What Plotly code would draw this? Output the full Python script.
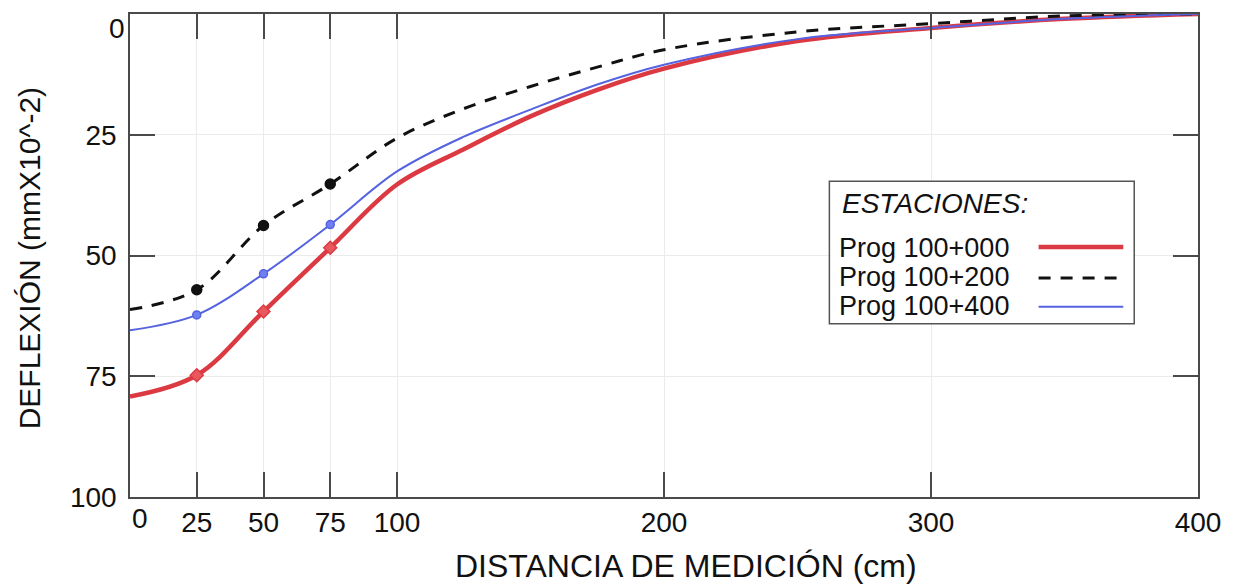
import plotly.graph_objects as go

# Data
distancia = [0, 25, 50, 75, 100, 125, 150, 175, 200, 250, 300, 350, 400]
prog_100_000 = [79.2, 74.8, 61.6, 48.4, 35.3, 28.0, 21.2, 15.7, 11.3, 5.6, 2.9, 1.0, 0.0]
prog_100_200 = [61.2, 57.1, 43.8, 35.2, 25.7, 19.6, 15.0, 11.0, 7.4, 3.7, 2.0, 0.4, 0.0]
prog_100_400 = [65.5, 62.3, 53.8, 43.6, 32.6, 25.4, 19.8, 14.6, 10.5, 5.2, 2.9, 1.0, 0.0]
marker_x = [25, 50, 75]

x_ticks = [0, 25, 50, 75, 100, 200, 300, 400]
y_ticks = [0, 25, 50, 75, 100]

series = [
    ("Prog 100+000", prog_100_000, "#dc3a42", 4.5, "solid", "diamond", 10, "#e8585e"),
    ("Prog 100+200", prog_100_200, "#111111", 3, "12px,10px", "circle", 10, "#111111"),
    ("Prog 100+400", prog_100_400, "#5563e0", 2, "solid", "circle", 8, "#6f80f0"),
]

W, H = 1233, 585
L, R, T, B = 130, 31, 12, 88
PW, PH = W - L - R, H - T - B


def px(xp):
    return (xp - L) / PW


def py(yp):
    return (H - B - yp) / PH


fig = go.Figure()
for name, ys, color, width, dash, sym, msize, mfill in series:
    fig.add_trace(go.Scatter(
        x=distancia, y=ys, mode="lines", name=name,
        line=dict(color=color, width=width, dash=dash, shape="spline", smoothing=1.0),
        showlegend=False, hoverinfo="skip"))
    mx = [x for x in distancia if x in marker_x]
    my = [y for x, y in zip(distancia, ys) if x in marker_x]
    fig.add_trace(go.Scatter(
        x=mx, y=my, mode="markers", name=name,
        marker=dict(symbol=sym, size=msize, color=mfill, line=dict(color=color, width=1.5)),
        showlegend=False, hoverinfo="skip"))

font_family = "Liberation Sans, Arial, sans-serif"
tick_font = dict(family=font_family, size=28, color="#111111")
axis_common = dict(
    showline=True, linecolor="#4a4a4a", linewidth=1.5, mirror="ticks",
    ticks="inside", ticklen=25, tickwidth=1.5, tickcolor="#4a4a4a",
    showgrid=True, gridcolor="#ebebeb", gridwidth=1, zeroline=False,
    tickfont=tick_font,
)

# the "0" labels sit slightly inside the corner in the reference; they are drawn as annotations
fig.update_xaxes(range=[0, 400], tickmode="array", tickvals=x_ticks,
                 ticktext=["" if v == 0 else str(v) for v in x_ticks], **axis_common)
fig.update_yaxes(range=[100, 0], tickmode="array", tickvals=y_ticks,
                 ticktext=["" if v == 0 else str(v) for v in y_ticks], ticklabelstandoff=6,
                 **axis_common)

# Custom legend box (symbols to the right of labels, as in the reference)
shapes = [dict(type="rect", xref="paper", yref="paper",
               x0=px(832), x1=px(1138), y0=py(180), y1=py(323),
               line=dict(color="#555555", width=1.5), fillcolor="white", layer="above")]
annotations = [
    dict(text="<i>ESTACIONES:</i>", xref="paper", yref="paper", x=px(843), y=py(202),
         xanchor="left", yanchor="middle", showarrow=False,
         font=dict(family=font_family, size=28, color="#111111")),
]
entry_y = [247, 276, 305]
line_y = [246, 277, 306]
for (name, ys, color, width, dash, sym, msize, mfill), ey, ly in zip(series, entry_y, line_y):
    annotations.append(dict(text=name, xref="paper", yref="paper", x=px(841), y=py(ey),
                            xanchor="left", yanchor="middle", showarrow=False, borderpad=0,
                            font=dict(family=font_family, size=27, color="#111111")))
    shapes.append(dict(type="line", xref="paper", yref="paper",
                       x0=px(1042), x1=px(1127), y0=py(ly), y1=py(ly),
                       line=dict(color=color, width=width, dash=dash), layer="above"))

annotations.append(dict(text="0", xref="paper", yref="paper", x=px(140), y=py(519),
                        xanchor="center", yanchor="middle", showarrow=False, font=tick_font))
annotations.append(dict(text="0", xref="paper", yref="paper", x=px(127), y=py(27),
                        xanchor="right", yanchor="middle", showarrow=False, font=tick_font))
annotations.append(dict(text="DISTANCIA DE MEDICIÓN (cm)", xref="paper", yref="paper",
                        x=px(688), y=py(566), xanchor="center", yanchor="middle",
                        showarrow=False, font=dict(family=font_family, size=32, color="#111111")))
annotations.append(dict(text="DEFLEXIÓN (mmX10^-2)", xref="paper", yref="paper",
                        x=px(30), y=py(257), xanchor="center", yanchor="middle", textangle=-90,
                        showarrow=False, font=dict(family=font_family, size=30, color="#111111")))

fig.update_layout(
    width=W, height=H,
    margin=dict(l=L, r=R, t=T, b=B),
    paper_bgcolor="white", plot_bgcolor="white",
    shapes=shapes, annotations=annotations,
)

fig.write_html("out.html")
